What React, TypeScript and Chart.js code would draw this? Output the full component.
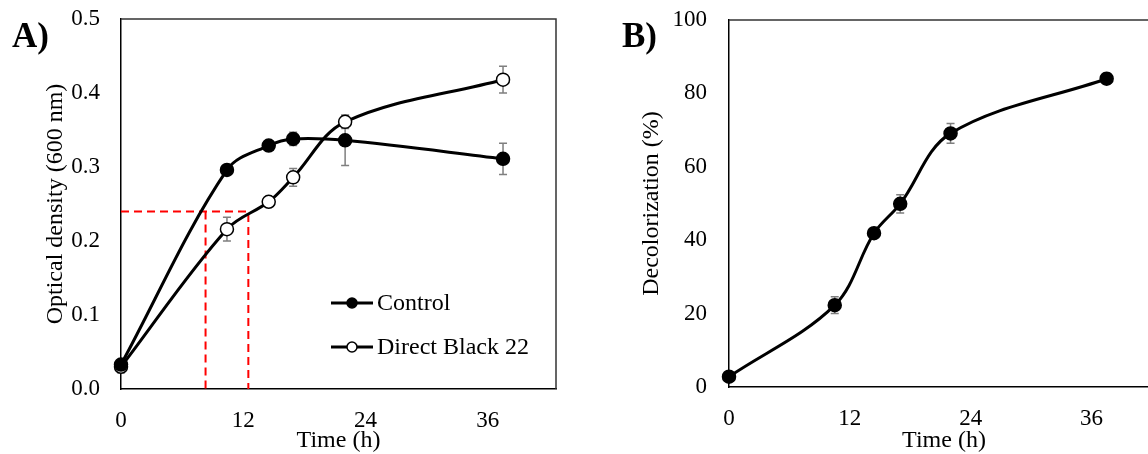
import React, { useEffect, useRef } from "react";
import { Chart, registerables } from "chart.js";

Chart.register(...registerables);

// ---- data (panel A) ----
const timesA = [0, 10.4, 14.5, 16.9, 22, 37.5];
const controlOD = [0.033, 0.296, 0.329, 0.338, 0.336, 0.311];
const controlErr = [0.004, 0.003, 0.004, 0.009, 0.034, 0.021];
const dyeOD = [0.03, 0.216, 0.253, 0.286, 0.361, 0.418];
const dyeErr = [0.008, 0.016, 0.003, 0.012, 0.009, 0.018];
const thresholdOD = 0.24;
const thresholdTimes = [8.3, 12.5];

// ---- data (panel B) ----
const timesB = [0, 10.5, 14.4, 17, 22, 37.5];
const decolorization = [2.8, 22.3, 41.9, 49.9, 69.1, 84.0];
const decolorizationErr = [1, 2.3, 1, 2.5, 2.7, 1.5];

// ---- axes ----
const timeTicks = [0, 12, 24, 36];
const timeMax = 42.7;
const odMin = 0, odMax = 0.5, odStep = 0.1;
const decMin = 0, decMax = 100, decStep = 20;

const FONT = "'Liberation Serif', 'Times New Roman', serif";
const TICK_SIZE = 23;
const TITLE_SIZE = 24;

const pts = (xs: number[], ys: number[]) => xs.map((x, i) => ({ x, y: ys[i] }));

const errorBarPlugin = {
  id: "errorBars",
  beforeDatasetsDraw(chart: any) {
    const ctx = chart.ctx;
    const ys = chart.scales.y;
    chart.data.datasets.forEach((ds: any, i: number) => {
      const errs = ds.errors;
      if (!errs) return;
      const meta = chart.getDatasetMeta(i);
      ctx.save();
      ctx.strokeStyle = "#7f7f7f";
      ctx.lineWidth = 1.5;
      meta.data.forEach((pt: any, j: number) => {
        const v = ds.data[j].y;
        const e = errs[j];
        const yT = ys.getPixelForValue(v + e);
        const yB = ys.getPixelForValue(v - e);
        const x = pt.x;
        ctx.beginPath();
        ctx.moveTo(x, yT);
        ctx.lineTo(x, yB);
        ctx.moveTo(x - 4, yT);
        ctx.lineTo(x + 4, yT);
        ctx.moveTo(x - 4, yB);
        ctx.lineTo(x + 4, yB);
        ctx.stroke();
      });
      ctx.restore();
    });
  },
};

const framePlugin = {
  id: "frame",
  beforeDatasetsDraw(chart: any) {
    const { ctx, chartArea: a } = chart;
    ctx.save();
    ctx.strokeStyle = "#333";
    ctx.lineWidth = 1.5;
    ctx.beginPath();
    ctx.moveTo(a.left, a.top);
    ctx.lineTo(a.right, a.top);
    ctx.lineTo(a.right, a.bottom);
    ctx.stroke();
    ctx.restore();
  },
};

const panelLabelPlugin = {
  id: "panelLabel",
  afterDraw(chart: any, _args: any, opts: any) {
    if (!opts || !opts.text) return;
    const ctx = chart.ctx;
    ctx.save();
    ctx.fillStyle = "#000";
    ctx.font = `bold 35px ${FONT}`;
    ctx.textBaseline = "middle";
    ctx.textAlign = "left";
    ctx.fillText(opts.text, opts.x, opts.y);
    ctx.restore();
  },
};

const insideLegendPlugin = {
  id: "insideLegend",
  afterDraw(chart: any, _args: any, opts: any) {
    if (!opts || !opts.items) return;
    const ctx = chart.ctx;
    const a = chart.chartArea;
    ctx.save();
    opts.items.forEach((it: any, k: number) => {
      const y = a.top + opts.top + k * opts.gap;
      const x0 = a.left + opts.left;
      ctx.strokeStyle = "#000";
      ctx.lineWidth = 3;
      ctx.beginPath();
      ctx.moveTo(x0, y);
      ctx.lineTo(x0 + 42, y);
      ctx.stroke();
      ctx.beginPath();
      ctx.arc(x0 + 21, y, 5, 0, Math.PI * 2);
      ctx.fillStyle = it.fill;
      ctx.fill();
      ctx.lineWidth = 1.5;
      ctx.stroke();
      ctx.fillStyle = "#000";
      ctx.font = `${TITLE_SIZE}px ${FONT}`;
      ctx.textBaseline = "middle";
      ctx.textAlign = "left";
      ctx.fillText(it.text, x0 + 46, y + 1);
    });
    ctx.restore();
  },
};

function makeOptions(cfg: any): any {
  return {
    responsive: false,
    animation: false,
    devicePixelRatio: 1,
    layout: { padding: cfg.padding },
    plugins: {
      legend: { display: false },
      tooltip: { enabled: false },
      panelLabel: cfg.panelLabel,
      insideLegend: cfg.insideLegend || {},
    },
    scales: {
      x: {
        type: "linear",
        min: 0,
        max: timeMax,
        afterBuildTicks: (s: any) => {
          s.ticks = timeTicks.map((v) => ({ value: v }));
        },
        afterFit: (s: any) => {
          s.height = cfg.xHeight;
          s.paddingLeft = 0;
          s.paddingRight = 0;
        },
        grid: { display: false, drawTicks: false },
        border: { display: true, color: "#000", width: 1.5 },
        ticks: {
          color: "#000",
          padding: 18,
          font: { family: FONT, size: TICK_SIZE },
          maxRotation: 0,
        },
        title: {
          display: true,
          text: "Time (h)",
          color: "#000",
          font: { family: FONT, size: TITLE_SIZE, lineHeight: 1.1 },
          padding: { top: 0, bottom: 0 },
        },
      },
      y: {
        type: "linear",
        min: cfg.yMin,
        max: cfg.yMax,
        afterFit: (s: any) => {
          s.width = cfg.yWidth;
          s.paddingTop = 0;
          s.paddingBottom = 0;
        },
        grid: { display: false, drawTicks: false },
        border: { display: true, color: "#000", width: 1.5 },
        ticks: {
          color: "#000",
          padding: cfg.yTickPad,
          stepSize: cfg.yStep,
          font: { family: FONT, size: TICK_SIZE },
          callback: cfg.yFmt,
        },
        title: {
          display: true,
          text: cfg.yTitle,
          color: "#000",
          font: { family: FONT, size: TITLE_SIZE, lineHeight: 1.1 },
          padding: { top: cfg.yTitlePad, bottom: 0 },
        },
      },
    },
  };
}

const lineStyle = {
  showLine: true,
  borderColor: "#000",
  borderWidth: 3,
  tension: 0.35,
  pointRadius: 6.5,
  pointBorderWidth: 1.5,
  pointBorderColor: "#000",
  clip: false,
};

export default function App() {
  const refA = useRef<HTMLCanvasElement>(null);
  const refB = useRef<HTMLCanvasElement>(null);

  useEffect(() => {
    const chartA = new Chart(refA.current as HTMLCanvasElement, {
      type: "scatter",
      data: {
        datasets: [
          {
            ...lineStyle,
            label: "Control",
            data: pts(timesA, controlOD),
            pointBackgroundColor: "#000",
            errors: controlErr,
          } as any,
          {
            ...lineStyle,
            label: "Direct Black 22",
            data: pts(timesA, dyeOD),
            pointBackgroundColor: "#fff",
            errors: dyeErr,
          } as any,
          {
            label: "threshold-h",
            showLine: true,
            data: [
              { x: 0, y: thresholdOD },
              { x: thresholdTimes[1], y: thresholdOD },
              { x: thresholdTimes[1], y: odMin },
            ],
            borderColor: "#ff0000",
            borderWidth: 2,
            borderDash: [8, 5],
            pointRadius: 0,
            tension: 0,
          } as any,
          {
            label: "threshold-v",
            showLine: true,
            data: [
              { x: thresholdTimes[0], y: thresholdOD },
              { x: thresholdTimes[0], y: odMin },
            ],
            borderColor: "#ff0000",
            borderWidth: 2,
            borderDash: [8, 5],
            pointRadius: 0,
            tension: 0,
          } as any,
        ],
      },
      options: makeOptions({
        padding: { top: 19, right: 18, left: 0, bottom: 0 },
        xHeight: 65,
        yWidth: 121,
        yMin: odMin,
        yMax: odMax,
        yStep: odStep,
        yTickPad: 21,
        yTitlePad: 43,
        yFmt: (v: any) => Number(v).toFixed(1),
        yTitle: "Optical density (600 nm)",
        panelLabel: { text: "A)", x: 12, y: 38 },
        insideLegend: {
          left: 210,
          top: 284,
          gap: 44,
          items: [
            { text: "Control", fill: "#000" },
            { text: "Direct Black 22", fill: "#fff" },
          ],
        },
      }),
      plugins: [framePlugin, errorBarPlugin, panelLabelPlugin, insideLegendPlugin],
    });

    const chartB = new Chart(refB.current as HTMLCanvasElement, {
      type: "scatter",
      data: {
        datasets: [
          {
            ...lineStyle,
            label: "Decolorization",
            data: pts(timesB, decolorization),
            pointBackgroundColor: "#000",
            errors: decolorizationErr,
          } as any,
        ],
      },
      options: makeOptions({
        padding: { top: 20, right: 15, left: 0, bottom: 0 },
        xHeight: 67,
        yWidth: 155,
        yMin: decMin,
        yMax: decMax,
        yStep: decStep,
        yTickPad: 22,
        yTitlePad: 65,
        yFmt: (v: any) => String(v),
        yTitle: "Decolorization (%)",
        panelLabel: { text: "B)", x: 48, y: 38 },
      }),
      plugins: [framePlugin, errorBarPlugin, panelLabelPlugin],
    });

    return () => {
      chartA.destroy();
      chartB.destroy();
    };
  }, []);

  return (
    <div
      style={{
        position: "fixed",
        left: 0,
        top: 0,
        width: 1148,
        height: 454,
        overflow: "hidden",
        background: "#fff",
      }}
    >
      <canvas
        ref={refA}
        width={574}
        height={454}
        style={{ position: "absolute", left: 0, top: 0, width: 574, height: 454 }}
      />
      <canvas
        ref={refB}
        width={600}
        height={454}
        style={{ position: "absolute", left: 574, top: 0, width: 600, height: 454 }}
      />
    </div>
  );
}
